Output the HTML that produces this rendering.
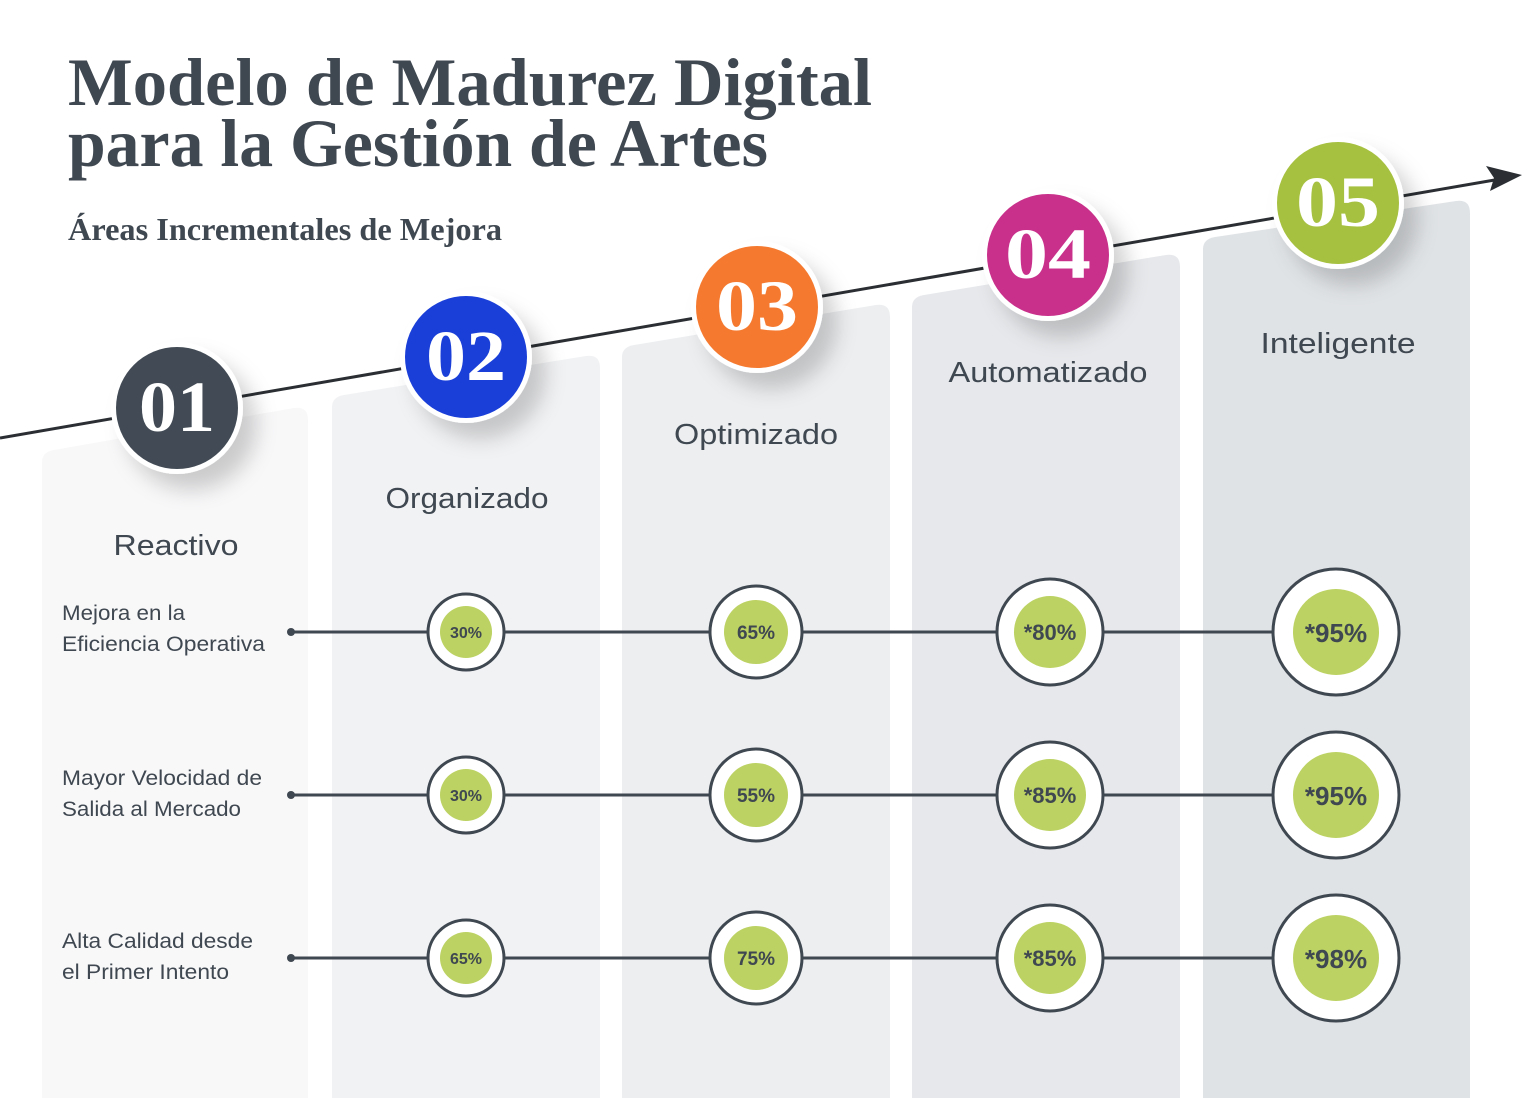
<!DOCTYPE html>
<html><head><meta charset="utf-8"><style>
html,body{margin:0;padding:0;background:#fff;}
svg{display:block;}
</style></head><body>
<svg width="1536" height="1098" viewBox="0 0 1536 1098" xmlns="http://www.w3.org/2000/svg">
<defs>
<filter id="sh" x="-50%" y="-50%" width="200%" height="200%">
<feDropShadow dx="14" dy="16" stdDeviation="10" flood-color="#000" flood-opacity="0.18"/>
</filter>
</defs>
<rect width="1536" height="1098" fill="#fff"/>
<path d="M42 1098 V462 Q42 452 54 450 L294 408 Q308 406 308 420 V1098 Z" fill="#f8f8f9"/>
<path d="M332 1098 V407 Q332 397 344 395 L586 356 Q600 354 600 368 V1098 Z" fill="#f1f2f4"/>
<path d="M622 1098 V357 Q622 347 634 345 L876 305 Q890 303 890 317 V1098 Z" fill="#eceef0"/>
<path d="M912 1098 V307 Q912 297 924 295 L1166 255 Q1180 253 1180 267 V1098 Z" fill="#e6e8eb"/>
<path d="M1203 1098 V249 Q1203 239 1215 237 L1456 201 Q1470 199 1470 213 V1098 Z" fill="#e0e3e6"/>
<line x1="0" y1="438" x2="1512" y2="177" stroke="#2b2f33" stroke-width="3"/>
<path d="M1522 175 L1486 166 L1494 178 L1490 191 Z" fill="#2b2f33"/>
<g font-family="Liberation Serif, serif" font-weight="bold" fill="#3f4750">
<text x="68" y="105" font-size="68" textLength="804" lengthAdjust="spacingAndGlyphs">Modelo de Madurez Digital</text>
<text x="68" y="166" font-size="68" textLength="700" lengthAdjust="spacingAndGlyphs">para la Gestión de Artes</text>
<text x="68" y="240" font-size="32" textLength="434" lengthAdjust="spacingAndGlyphs">Áreas Incrementales de Mejora</text>
</g>
<g filter="url(#sh)">
<circle cx="177" cy="408" r="66" fill="#fff"/>
<circle cx="466" cy="357" r="66" fill="#fff"/>
<circle cx="757" cy="307" r="66" fill="#fff"/>
<circle cx="1048" cy="255" r="66" fill="#fff"/>
<circle cx="1338" cy="203" r="66" fill="#fff"/>
</g>
<circle cx="177" cy="408" r="61" fill="#424b55"/>
<circle cx="466" cy="357" r="61" fill="#1a3fd9"/>
<circle cx="757" cy="307" r="61" fill="#f57a30"/>
<circle cx="1048" cy="255" r="61" fill="#c8308b"/>
<circle cx="1338" cy="203" r="61" fill="#a6c040"/>
<g font-family="Liberation Serif, serif" font-weight="bold" fill="#fff" font-size="72" text-anchor="middle">
<text x="177" y="431" textLength="76" lengthAdjust="spacingAndGlyphs">01</text>
<text x="466" y="380" textLength="80" lengthAdjust="spacingAndGlyphs">02</text>
<text x="757" y="330" textLength="82" lengthAdjust="spacingAndGlyphs">03</text>
<text x="1048" y="278" textLength="86" lengthAdjust="spacingAndGlyphs">04</text>
<text x="1338" y="226" textLength="84" lengthAdjust="spacingAndGlyphs">05</text>
</g>
<g font-family="Liberation Sans, sans-serif" fill="#3f4750" font-size="29" text-anchor="middle">
<text x="176" y="555" textLength="125" lengthAdjust="spacingAndGlyphs">Reactivo</text>
<text x="467" y="508" textLength="163" lengthAdjust="spacingAndGlyphs">Organizado</text>
<text x="756" y="444" textLength="164" lengthAdjust="spacingAndGlyphs">Optimizado</text>
<text x="1048" y="382" textLength="199" lengthAdjust="spacingAndGlyphs">Automatizado</text>
<text x="1338" y="353" textLength="155" lengthAdjust="spacingAndGlyphs">Inteligente</text>
</g>
<g font-family="Liberation Sans, sans-serif" fill="#3f4750" font-size="21">
<text x="62" y="620" textLength="123" lengthAdjust="spacingAndGlyphs">Mejora en la</text>
<text x="62" y="651" textLength="203" lengthAdjust="spacingAndGlyphs">Eficiencia Operativa</text>
<text x="62" y="785" textLength="200" lengthAdjust="spacingAndGlyphs">Mayor Velocidad de</text>
<text x="62" y="816" textLength="179" lengthAdjust="spacingAndGlyphs">Salida al Mercado</text>
<text x="62" y="948" textLength="191" lengthAdjust="spacingAndGlyphs">Alta Calidad desde</text>
<text x="62" y="979" textLength="167" lengthAdjust="spacingAndGlyphs">el Primer Intento</text>
</g>
<g stroke="#3f4750" stroke-width="3">
<line x1="291" y1="632" x2="1300" y2="632"/>
<line x1="291" y1="795" x2="1300" y2="795"/>
<line x1="291" y1="958" x2="1300" y2="958"/>
</g>
<g fill="#3f4750"><circle cx="291" cy="632" r="4"/><circle cx="291" cy="795" r="4"/><circle cx="291" cy="958" r="4"/></g>
<g fill="#fff" stroke="#3f4750" stroke-width="3">
<circle cx="466" cy="632" r="38"/><circle cx="756" cy="632" r="46"/><circle cx="1050" cy="632" r="53"/><circle cx="1336" cy="632" r="63"/>
<circle cx="466" cy="795" r="38"/><circle cx="756" cy="795" r="46"/><circle cx="1050" cy="795" r="53"/><circle cx="1336" cy="795" r="63"/>
<circle cx="466" cy="958" r="38"/><circle cx="756" cy="958" r="46"/><circle cx="1050" cy="958" r="53"/><circle cx="1336" cy="958" r="63"/>
</g>
<g fill="#bcd262">
<circle cx="466" cy="632" r="26"/><circle cx="756" cy="632" r="32"/><circle cx="1050" cy="632" r="36"/><circle cx="1336" cy="632" r="43"/>
<circle cx="466" cy="795" r="26"/><circle cx="756" cy="795" r="32"/><circle cx="1050" cy="795" r="36"/><circle cx="1336" cy="795" r="43"/>
<circle cx="466" cy="958" r="26"/><circle cx="756" cy="958" r="32"/><circle cx="1050" cy="958" r="36"/><circle cx="1336" cy="958" r="43"/>
</g>
<g font-family="Liberation Sans, sans-serif" font-weight="bold" fill="#3f4750" text-anchor="middle">
<g font-size="16"><text x="466" y="638">30%</text><text x="466" y="801">30%</text><text x="466" y="964">65%</text></g>
<g font-size="19"><text x="756" y="639">65%</text><text x="756" y="802">55%</text><text x="756" y="965">75%</text></g>
<g font-size="22"><text x="1050" y="640">*80%</text><text x="1050" y="803">*85%</text><text x="1050" y="966">*85%</text></g>
<g font-size="26"><text x="1336" y="642">*95%</text><text x="1336" y="805">*95%</text><text x="1336" y="968">*98%</text></g>
</g>
</svg>
</body></html>
